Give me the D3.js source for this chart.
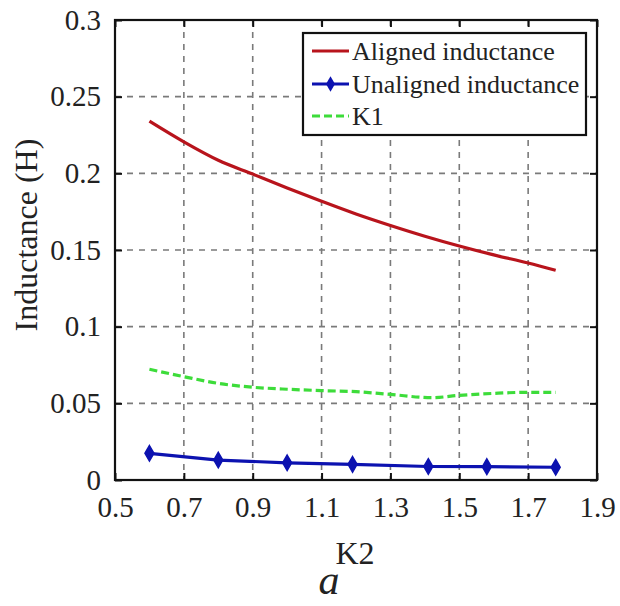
<!DOCTYPE html>
<html>
<head>
<meta charset="utf-8">
<script src="https://cdn.jsdelivr.net/npm/d3@7"></script>
<style>
  html, body { margin: 0; padding: 0; background: #fff; }
  svg { display: block; }
  svg text { fill: #222; }
</style>
</head>
<body>
<svg id="chart" width="620" height="606"></svg>
<script>
// K2 sweep and the inductance curves computed along it
const alignedK2 = [0.6, 0.7, 0.8, 0.9, 1.0, 1.1, 1.2, 1.3, 1.4, 1.5, 1.6, 1.7, 1.78];
const alignedL  = [0.234, 0.2205, 0.2085, 0.1995, 0.1905, 0.1818, 0.1735, 0.166, 0.159, 0.1526, 0.1468, 0.1415, 0.1368];

const unalignedK2 = [0.6, 0.8, 1.0, 1.19, 1.41, 1.58, 1.78];
const unalignedL  = [0.0174, 0.0130, 0.0112, 0.0102, 0.0088, 0.0087, 0.0083];

const k1K2 = [0.6, 0.7, 0.8, 0.9, 1.0, 1.1, 1.2, 1.3, 1.42, 1.5, 1.6, 1.7, 1.78];
const k1L  = [0.0722, 0.0674, 0.0630, 0.0605, 0.0592, 0.0583, 0.0576, 0.0558, 0.0537, 0.0552, 0.0565, 0.0572, 0.0572];

const xTicks = [0.5, 0.7, 0.9, 1.1, 1.3, 1.5, 1.7, 1.9];
const yTicks = [0, 0.05, 0.1, 0.15, 0.2, 0.25, 0.3];

const legendLabels = ["Aligned inductance", "Unaligned inductance", "K1"];

const colors = { aligned: "#b8141c", unaligned: "#0c12b0", k1: "#3ddc3a" };
const serif = "'Liberation Serif', 'Times New Roman', Tinos, 'Nimbus Roman', 'Noto Serif', 'DejaVu Serif', FreeSerif, serif";

const svg = d3.select("#chart");
const plot = { left: 115, right: 597, top: 20, bottom: 480 };

const x = d3.scaleLinear().domain([0.5, 1.9]).range([plot.left, plot.right]);
const y = d3.scaleLinear().domain([0, 0.3]).range([plot.bottom, plot.top]);

// dashed grid
const grid = svg.append("g").attr("stroke", "#7a7a7a").attr("stroke-width", 1.6)
  .attr("stroke-dasharray", "6,6");
xTicks.slice(1, -1).forEach(t => {
  grid.append("line").attr("x1", x(t)).attr("x2", x(t))
    .attr("y1", plot.top).attr("y2", plot.bottom);
});
yTicks.slice(1, -1).forEach(t => {
  grid.append("line").attr("y1", y(t)).attr("y2", y(t))
    .attr("x1", plot.left).attr("x2", plot.right);
});

// axes with inward ticks on all four sides
const tickLen = 7;
const axisBottom = d3.axisBottom(x).tickValues(xTicks).tickSizeInner(-tickLen).tickSizeOuter(0)
  .tickPadding(16).tickFormat(d3.format(".1f"));
const axisTop = d3.axisTop(x).tickValues(xTicks).tickSizeInner(-tickLen).tickSizeOuter(0).tickFormat("");
const axisLeft = d3.axisLeft(y).tickValues(yTicks).tickSizeInner(-tickLen).tickSizeOuter(0)
  .tickPadding(14).tickFormat(d => d === 0 ? "0" : String(+d.toFixed(2)));
const axisRight = d3.axisRight(y).tickValues(yTicks).tickSizeInner(-tickLen).tickSizeOuter(0).tickFormat("");

function styleAxis(g) {
  g.attr("font-family", serif);
  g.select(".domain").remove();
  g.selectAll(".tick line").attr("stroke", "#111").attr("stroke-width", 2);
  g.selectAll(".tick text").style("font-family", serif)
    .attr("font-size", 29).attr("fill", "#222");
}
svg.append("g").attr("transform", `translate(0,${plot.bottom})`).call(axisBottom).call(styleAxis);
svg.append("g").attr("transform", `translate(0,${plot.top})`).call(axisTop).call(styleAxis);
svg.append("g").attr("transform", `translate(${plot.left},0)`).call(axisLeft).call(styleAxis);
svg.append("g").attr("transform", `translate(${plot.right},0)`).call(axisRight).call(styleAxis);

// frame
svg.append("rect").attr("x", plot.left).attr("y", plot.top)
  .attr("width", plot.right - plot.left).attr("height", plot.bottom - plot.top)
  .attr("fill", "none").attr("stroke", "#111").attr("stroke-width", 2.2);

// series
const line = d3.line().x(d => x(d[0])).y(d => y(d[1])).curve(d3.curveMonotoneX);

svg.append("path").datum(d3.zip(k1K2, k1L)).attr("d", line)
  .attr("fill", "none").attr("stroke", colors.k1).attr("stroke-width", 3.2)
  .attr("stroke-dasharray", "8,4");

svg.append("path").datum(d3.zip(unalignedK2, unalignedL)).attr("d", d3.line().x(d => x(d[0])).y(d => y(d[1])))
  .attr("fill", "none").attr("stroke", colors.unaligned).attr("stroke-width", 3.2);

const diamond = d3.symbol().type(d3.symbolDiamond).size(70);
svg.append("g").selectAll("path").data(d3.zip(unalignedK2, unalignedL)).join("path")
  .attr("transform", d => `translate(${x(d[0])},${y(d[1])})`)
  .attr("d", diamond).attr("fill", colors.unaligned).attr("stroke", colors.unaligned).attr("stroke-width", 1.5);

svg.append("path").datum(d3.zip(alignedK2, alignedL)).attr("d", line)
  .attr("fill", "none").attr("stroke", colors.aligned).attr("stroke-width", 3.2);

// legend
const legend = svg.append("g");
legend.append("rect").attr("x", 303).attr("y", 33).attr("width", 283).attr("height", 102)
  .attr("fill", "#fff").attr("stroke", "#111").attr("stroke-width", 2.2);
const rowsY = [51, 84, 116];
const styles = [
  { c: colors.aligned, dash: null, marker: false },
  { c: colors.unaligned, dash: null, marker: true },
  { c: colors.k1, dash: "8,4", marker: false }
];
legendLabels.forEach((lab, i) => {
  const ly = rowsY[i];
  const l = legend.append("line").attr("x1", 312).attr("x2", 349).attr("y1", ly).attr("y2", ly)
    .attr("stroke", styles[i].c).attr("stroke-width", 3.2);
  if (styles[i].dash) l.attr("stroke-dasharray", styles[i].dash);
  if (styles[i].marker) {
    legend.append("path").attr("transform", `translate(330.5,${ly})`).attr("d", diamond)
      .attr("fill", styles[i].c);
  }
  legend.append("text").attr("x", 352).attr("y", ly + 9).style("font-family", serif)
    .attr("font-size", 26).text(lab);
});

// axis titles
svg.append("text").attr("x", 355).attr("y", 564).attr("text-anchor", "middle")
  .style("font-family", serif).attr("font-size", 32).text("K2");
svg.append("text").attr("transform", "translate(37,235) rotate(-90)").attr("text-anchor", "middle")
  .style("font-family", serif).attr("font-size", 32).text("Inductance (H)");
svg.append("text").attr("x", 329).attr("y", 594).attr("text-anchor", "middle")
  .style("font-family", serif).attr("font-size", 42).attr("font-style", "italic").text("a");
</script>
</body>
</html>
